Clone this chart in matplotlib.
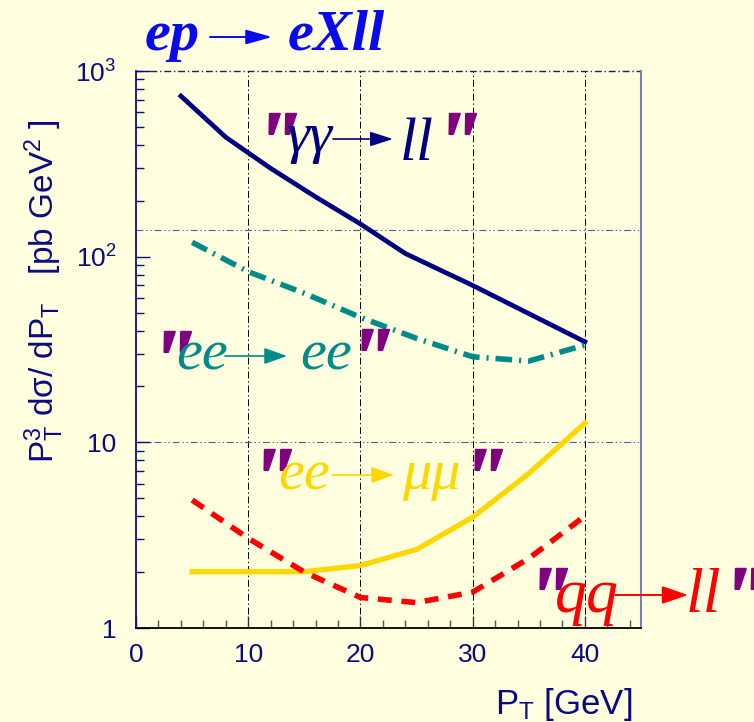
import matplotlib
matplotlib.use("Agg")
import matplotlib.pyplot as plt
import matplotlib.patheffects as pe
from matplotlib.patches import FancyArrowPatch
from matplotlib.ticker import FixedLocator, FixedFormatter, LogLocator, NullFormatter, MultipleLocator

# P_T [GeV] vs P_T^3 dsigma/dP_T [pb GeV^2]
pt_gg = [4, 8, 12, 16, 20, 24, 30, 40]
xs_gg = [733, 440, 299, 210, 150, 104, 70, 34.8]

pt_ee = [5, 10, 15, 20, 25, 30, 35, 40]
xs_ee = [119.5, 83, 63.5, 47.1, 36.3, 28.9, 27.4, 33.4]

pt_mm = [5, 10, 15, 20, 25, 30, 35, 40]
xs_mm = [2.01, 2.01, 2.01, 2.17, 2.65, 3.95, 6.8, 12.7]

pt_qq = [5, 10, 15, 20, 25, 30, 35, 40]
xs_qq = [4.89, 3.04, 2.0, 1.46, 1.37, 1.56, 2.37, 4.01]

y_ticks = [1, 10, 100, 1000]
y_ticklabels = ["1", "10", r"$\mathregular{10^2}$", r"$\mathregular{10^3}$"]

BG = "#FFFFE0"
NAVY = "#0b0b80"
PURPLE = "#800080"
W, H = 754, 722

plt.rcParams["mathtext.default"] = "regular"
plt.rcParams["lines.scale_dashes"] = False

fig = plt.figure(figsize=(W / 100, H / 100), dpi=100, facecolor=BG)
ax = fig.add_axes([136 / W, 1 - 628 / H, (641 - 136) / W, (628 - 71) / H])
ax.set_facecolor(BG)
ax.set_yscale("log")
ax.set_xlim(0, 45)
ax.set_ylim(1, 1000)

# grid, ROOT style dash-dot
for xv in [10, 20, 30, 40]:
    ax.axvline(xv, color="black", lw=0.7, dashes=(5, 2, 1, 2), zorder=1)
for yv in [10, 140]:
    ax.axhline(yv, color="#5a5aa0", lw=0.8, dashes=(5, 2, 1, 2, 1, 2), zorder=1)
ax.axhline(1000, color="#222244", lw=1.0, dashes=(5, 2, 1, 2), zorder=1, clip_on=False)

ax.plot(pt_gg, xs_gg, color="#000080", lw=3.4, solid_joinstyle="round", zorder=3)
ax.plot(pt_ee, xs_ee, color="#008b8b", lw=4.0, dashes=(12, 5, 1.5, 5), zorder=3)
ax.plot(pt_mm, xs_mm, color="#FFD700", lw=3.8, zorder=3)
ax.plot(pt_qq, xs_qq, color="#FF0000", lw=4.0, dashes=(10, 7), zorder=3)

ax.spines["top"].set_visible(False)
ax.spines["right"].set_color("#7b7fbf")
ax.spines["right"].set_linewidth(1.5)
ax.spines["left"].set_color(NAVY)
ax.spines["left"].set_linewidth(1.3)
ax.spines["bottom"].set_color("black")
ax.spines["bottom"].set_linewidth(1.3)

ax.xaxis.set_major_locator(FixedLocator([0, 10, 20, 30, 40]))
ax.xaxis.set_minor_locator(MultipleLocator(2))
ax.yaxis.set_major_locator(FixedLocator(y_ticks))
ax.yaxis.set_major_formatter(FixedFormatter(y_ticklabels))
ax.yaxis.set_minor_locator(LogLocator(base=10, subs=range(2, 10)))
ax.yaxis.set_minor_formatter(NullFormatter())
ax.tick_params(axis="both", which="both", direction="in", top=False, right=False)
ax.tick_params(axis="x", which="major", length=9, width=1, color="#333333", pad=11,
               labelsize=19, labelcolor=NAVY)
ax.tick_params(axis="x", which="minor", length=6, width=1, color="#555555")
ax.tick_params(axis="y", which="major", length=10, width=1, color=NAVY, pad=14,
               labelsize=19, labelcolor=NAVY)
ax.tick_params(axis="y", which="minor", length=6, width=1, color=NAVY)
for lab in ax.get_xticklabels() + ax.get_yticklabels():
    lab.set_fontfamily("Liberation Sans")

fig.text(632 / W, 1 - 714 / H, r"P$_\mathregular{T}$ [GeV]", ha="right", va="baseline",
         fontsize=25, color=NAVY, family="Liberation Sans")
fig.text(44 / W, 1 - 291 / H,
         r"$\mathregular{P_T^3}$ dσ/ dP$_\mathregular{T}$   [pb GeV$^\mathregular{2}$ ]",
         rotation=90, ha="center", va="center", fontsize=24, color=NAVY,
         family="Liberation Sans")


def fx(px):
    return px / W


def fy(py):
    return 1 - py / H


def arrow(x0, x1, y, color, lw, hl, hw):
    fig.add_artist(FancyArrowPatch((fx(x0), fy(y)), (fx(x1), fy(y)), transform=fig.transFigure,
                                   arrowstyle=f"-|>,head_length={hl},head_width={hw}",
                                   mutation_scale=1, color=color, lw=lw,
                                   shrinkA=0, shrinkB=0))


def serif(px, py, s, color, size, **kw):
    fig.text(fx(px), fy(py), s, color=color, fontsize=size, family="Liberation Serif",
             style="italic", ha="left", va="baseline", **kw)


QSIZE = 62


def quote(px, top):
    # place the purple quote glyph by the top of its ink
    base = top + 0.676 * QSIZE * 100 / 72
    serif(px - 8, base, '"', PURPLE, QSIZE, weight="bold",
          path_effects=[pe.withStroke(linewidth=1.5, foreground=PURPLE)])


# title
serif(145, 50, "ep", "#0a0aee", 42, weight="bold")
arrow(210, 272, 37, "#0a0aee", 1.4, 16, 4.5)
serif(288, 50, "eXll", "#0a0aee", 42, weight="bold")

# reaction labels
quote(262, 112)
serif(287, 152, "γγ", "#000080", 42)
arrow(333, 393, 139, "#000080", 1.2, 14, 4.5)
serif(400, 160, "ll", "#000080", 44)
quote(442, 112)

quote(157, 330)
serif(176, 370, "ee", "#008b8b", 42)
arrow(225, 287, 356, "#008b8b", 1.2, 14, 5)
serif(300, 370, "ee", "#008b8b", 42)
quote(355, 328)

quote(257, 448)
serif(278, 489, "ee", "#FFD700", 42)
arrow(332, 394, 475, "#FFD700", 1.2, 14, 5)
serif(402, 489, "μμ", "#FFD700", 42)
quote(468, 448)

quote(533, 567)
serif(555, 612, "qq", "#FF0000", 46)
arrow(615, 688, 595, "#FF0000", 1.4, 16, 5.5)
serif(686, 612, "ll", "#FF0000", 46)
quote(728, 567)

fig.savefig("out.png", dpi=100, facecolor=BG)
